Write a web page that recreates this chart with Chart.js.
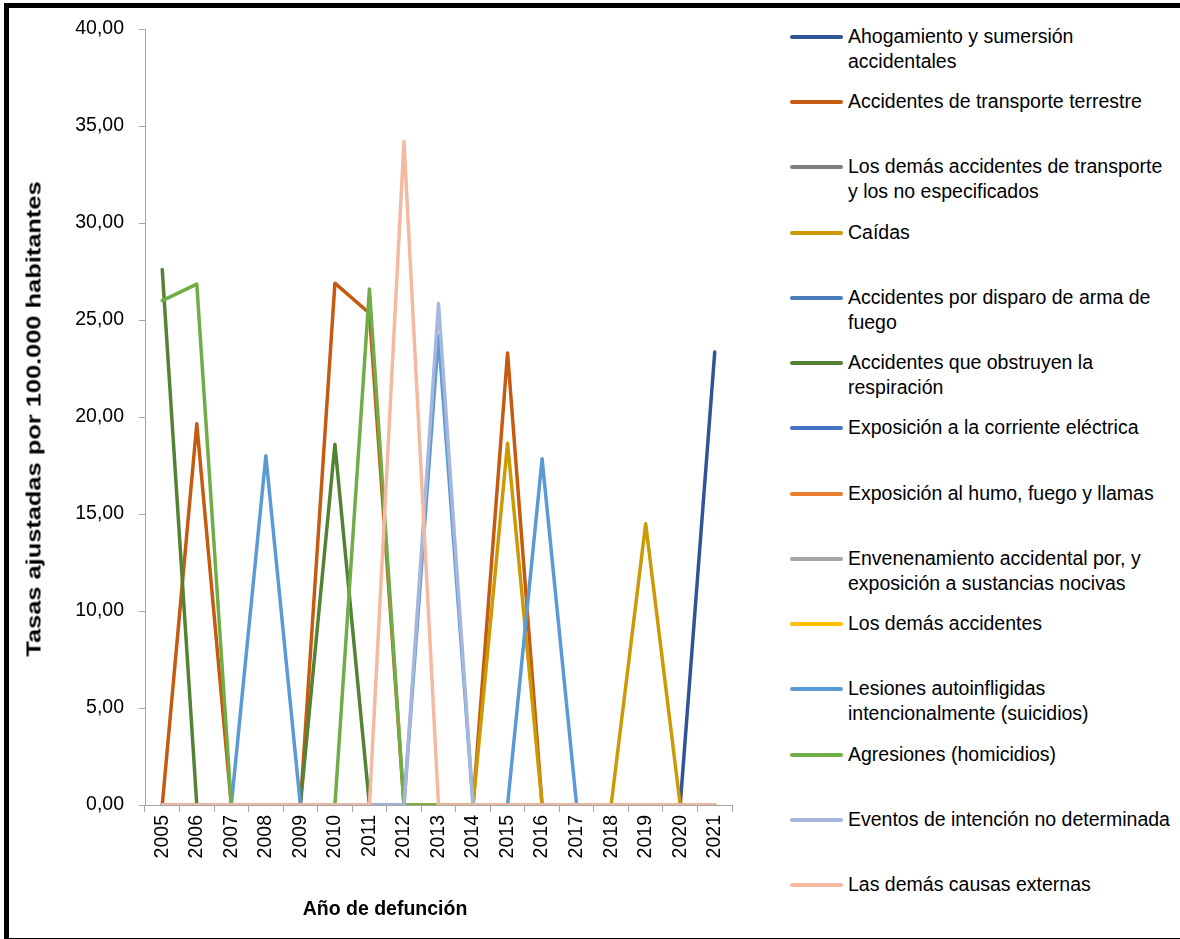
<!DOCTYPE html>
<html>
<head>
<meta charset="utf-8">
<script src="https://cdn.jsdelivr.net/npm/chart.js@4.4.1/dist/chart.umd.min.js"></script>
<style>
  html, body { margin: 0; padding: 0; background: #fff; }
  body { width: 1180px; height: 939px; position: relative; overflow: hidden; font-family: "Liberation Sans", Arial, sans-serif; }
  #frame { position: absolute; left: 4px; top: 3px; width: 1220px; height: 930px; border-left: 5px solid #000; border-top: 5px solid #000; border-bottom: 3px solid #000; box-sizing: content-box; }
  #wrap { position: absolute; left: 0; top: 0; width: 760px; height: 939px; }
  #ytitle { position: absolute; left: 34px; top: 419px; transform: translate(-50%, -50%) rotate(-90deg) scaleX(1.27); white-space: nowrap; font-weight: bold; font-size: 20px; color: #000; }
  #xtitle { position: absolute; left: 385px; top: 908px; transform: translate(-50%, -50%); white-space: nowrap; font-weight: bold; font-size: 19.5px; color: #000; }
  #legend { position: absolute; left: 790px; top: 24px; width: 390px; }
  .item { position: absolute; left: 0; height: 60px; }
  .swatch { position: absolute; left: 0; top: 11px; width: 53px; height: 4px; border-radius: 2px; }
  .txt { position: absolute; left: 58px; top: 0; white-space: pre; font-size: 19.5px; line-height: 25px; color: #000; }
</style>
</head>
<body>
<div id="frame"></div>
<div id="wrap"><canvas id="c"></canvas></div>
<div id="ytitle">Tasas ajustadas por 100.000 habitantes</div>
<div id="xtitle">Año de defunción</div>
<div id="legend"></div>
<script>
const years = ['2005','2006','2007','2008','2009','2010','2011','2012','2013','2014','2015','2016','2017','2018','2019','2020','2021'];

const seriesNames = [
  'Ahogamiento y sumersión\naccidentales',
  'Accidentes de transporte terrestre',
  'Los demás accidentes de transporte\ny los no especificados',
  'Caídas',
  'Accidentes por disparo de arma de\nfuego',
  'Accidentes que obstruyen la\nrespiración',
  'Exposición a la corriente eléctrica',
  'Exposición al humo, fuego y llamas',
  'Envenenamiento accidental por, y\nexposición a sustancias nocivas',
  'Los demás accidentes',
  'Lesiones autoinfligidas\nintencionalmente (suicidios)',
  'Agresiones (homicidios)',
  'Eventos de intención no determinada',
  'Las demás causas externas'
];

// values per year 2005..2021
const ahogamiento      = [0,0,0,0,0,0,0,0,0,0,0,0,0,0,0,0,23.35];
const transporteTerr   = [0,19.65,0,0,0,26.9,25.35,0,0,0,23.3,0,0,0,0,0,0];
const demasTransporte  = [0,0,0,0,0,0,0,0,0,0,0,0,0,0,0,0,0];
const caidas           = [0,0,0,0,0,0,0,0,0,0,18.65,0,0,0,14.5,0,0];
const disparo          = [0,0,0,0,0,0,0,0,0,0,0,0,0,0,0,0,0];
const obstruyen        = [27.6,0,0,0,0,18.6,0,0,0,0,0,0,0,0,0,0,0];
const electrica        = [0,0,0,0,0,0,0,0,0,0,0,0,0,0,0,0,0];
const humo             = [0,0,0,0,0,0,0,0,0,0,0,0,0,0,0,0,0];
const envenenamiento   = [0,0,0,0,0,0,0,0,0,0,0,0,0,0,0,0,0];
const demasAccidentes  = [0,0,0,0,0,0,0,0,0,0,0,0,0,0,0,0,0];
const suicidios        = [0,0,0,18.0,0,0,0,0,24.2,0,0,17.85,0,0,0,0,0];
const homicidios       = [26.0,26.85,0,0,0,0,26.6,0,0,0,0,0,0,0,0,0,0];
const noDeterminada    = [0,0,0,0,0,0,0,0,25.85,0,0,0,0,0,0,0,0];
const demasCausas      = [0,0,0,0,0,0,0,34.2,0,0,0,0,0,0,0,0,0];

const yTicks = [0,5,10,15,20,25,30,35,40];

const seriesValues = [ahogamiento, transporteTerr, demasTransporte, caidas, disparo, obstruyen,
  electrica, humo, envenenamiento, demasAccidentes, suicidios, homicidios, noDeterminada, demasCausas];

const seriesColors = ['#2F5597','#C55A11','#7F7F7F','#CC9A06','#4A7EBB','#548235',
  '#4472C4','#ED7D31','#A5A5A5','#FFC000','#5B9BD5','#70AD47','#A7B6DD','#F4B9A0'];

const n = seriesNames.length;
const datasets = seriesNames.map((name, i) => ({
  label: name,
  data: seriesValues[i],
  borderColor: seriesColors[i],
  backgroundColor: seriesColors[i],
  borderWidth: 3.5,
  pointRadius: 0,
  pointHoverRadius: 0,
  tension: 0,
  fill: false,
  borderJoinStyle: 'round',
  borderCapStyle: 'round',
  order: n - i
}));

const fmt = v => v.toFixed(2).replace('.', ',');

new Chart(document.getElementById('c'), {
  type: 'line',
  data: { labels: years, datasets },
  options: {
    responsive: true,
    maintainAspectRatio: false,
    animation: false,
    events: [],
    layout: { padding: { left: 0, top: 29, right: 28, bottom: 0 } },
    plugins: { legend: { display: false }, tooltip: { enabled: false }, title: { display: false } },
    scales: {
      x: {
        type: 'category',
        offset: true,
        grid: { display: true, offset: true, drawOnChartArea: false, drawTicks: true, tickLength: 7, color: '#A6A6A6', lineWidth: 1 },
        border: { display: true, color: '#A6A6A6', width: 1 },
        ticks: { color: '#000', font: { family: '"Liberation Sans", Arial, sans-serif', size: 19.5 }, minRotation: 90, maxRotation: 90, padding: 3, autoSkip: false },
        afterFit: s => { s.height = 134; }
      },
      y: {
        min: 0, max: 40,
        afterBuildTicks: s => { s.ticks = yTicks.map(v => ({ value: v })); },
        grid: { display: true, drawOnChartArea: false, drawTicks: true, tickLength: 6, color: '#A6A6A6', lineWidth: 1 },
        border: { display: true, color: '#A6A6A6', width: 1 },
        ticks: { color: '#000', font: { family: '"Liberation Sans", Arial, sans-serif', size: 19.5 }, padding: 15, callback: v => fmt(v) },
        afterFit: s => { s.width = 145; }
      }
    }
  }
});

// legend built from the series arrays
const leg = document.getElementById('legend');
seriesNames.forEach((name, i) => {
  const it = document.createElement('div');
  it.className = 'item';
  it.style.top = (i * 65.23) + 'px';
  const sw = document.createElement('div');
  sw.className = 'swatch';
  sw.style.background = seriesColors[i];
  const tx = document.createElement('div');
  tx.className = 'txt';
  tx.textContent = name;
  it.appendChild(sw); it.appendChild(tx);
  leg.appendChild(it);
});
</script>
</body>
</html>
